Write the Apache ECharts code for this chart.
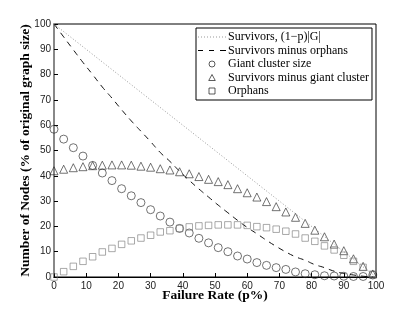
<!DOCTYPE html>
<html><head><meta charset="utf-8">
<script src="https://cdn.jsdelivr.net/npm/echarts@6/dist/echarts.min.js"></script>
<style>html,body{margin:0;padding:0;background:#fff}#c{width:415px;height:312px}</style>
</head><body><div id="c"></div>
<script>
var failureRate = [0,3,6,9,12,15,18,21,24,27,30,33,36,39,42,45,48,51,54,57,60,63,66,69,72,75,78,81,84,87,90,93,96,99];
var survivorsX = [0, 100];
var survivorsY = [100, 0];
var survivorsMinusOrphans = [100,94.9,89.8,84.8,80,75.1,70.7,66.1,61.7,57.6,53.5,49.2,45.7,41.8,38.2,34.8,31.6,28.4,25.4,22.4,19.6,17.1,14.5,12.1,9.9,8,6.6,4.9,3.7,2.3,1.4,0.8,0.3,0];
var giantCluster = [58.4,54.5,51.1,47.8,44.1,41.1,38.1,34.9,32.1,29.4,26.6,24.1,21.7,19.2,17.4,15.3,13.5,11.6,10.0,8.3,7.1,5.7,4.6,3.7,3.0,2.0,1.3,0.9,0.5,0.4,0.3,0.2,0.2,0.8];
var survivorsMinusGiant = [42.0,42.6,43.2,43.6,44.0,44.2,44.3,44.3,44.2,43.8,43.4,42.8,42.3,41.6,40.8,39.7,38.6,37.7,36.5,34.9,33.3,31.6,29.8,27.8,25.7,23.6,21.2,18.5,15.9,13.0,10.4,7.2,4.2,1.2];
var orphans = [0,2.1,4.2,6.2,8.0,9.9,11.3,12.9,14.3,15.4,16.5,17.8,18.3,19.2,19.8,20.2,20.4,20.6,20.6,20.6,20.4,19.9,19.5,18.9,18.1,17.0,15.4,14.1,12.3,10.7,8.6,6.2,3.8,1.1];
var seriesNames = ['Survivors, (1\u2212p)|G|','Survivors minus orphans','Giant cluster size','Survivors minus giant cluster','Orphans'];

function pairs(xs, ys){ return xs.map(function(x,i){ return [x, ys[i]]; }); }

var dottedIcon = 'path://M0,0h1v1h-1z M3,0h1v1h-1z M6,0h1v1h-1z M9,0h1v1h-1z M12,0h1v1h-1z M15,0h1v1h-1z M18,0h1v1h-1z M21,0h1v1h-1z M24,0h1v1h-1z M27,0h1v1h-1z';
var dashedIcon = 'path://M0,0h5v1h-5z M11,0h5v1h-5z M22,0h6v1h-6z';
var triIcon = 'path://M3,0L6,5.5L0,5.5Z';
var rectIcon = 'path://M0,0L5,0L5,5L0,5Z';

var chart = echarts.init(document.getElementById('c'), null, {renderer:'canvas'});
var serif = '"Liberation Serif", "DejaVu Serif", serif';
var sans = '"Liberation Sans", Arial, sans-serif';
var hollow = function(c){ return {color: 'rgba(0,0,0,0)', borderColor: c, borderWidth: 0.8}; };
chart.setOption({
  animation: false,
  backgroundColor: '#fff',
  grid: {left: 54, right: 39, top: 24, bottom: 35, show: true, borderColor: '#000', borderWidth: 1},
  legend: {
    orient: 'vertical', left: 196, top: 28,
    backgroundColor: '#fff', borderColor: '#000', borderWidth: 1,
    padding: [3, 3, 3, 2], itemGap: 1.5, itemWidth: 28, itemHeight: 6,
    textStyle: {fontFamily: serif, fontSize: 12, color: '#000', padding: [0,0,0,-3], lineHeight: 12},
    data: [
      {name: seriesNames[0], icon: dottedIcon, itemStyle: {color: '#999', borderWidth: 0}},
      {name: seriesNames[1], icon: dashedIcon, itemStyle: {color: '#000', borderWidth: 0}},
      {name: seriesNames[2], icon: 'circle', itemStyle: hollow('#000')},
      {name: seriesNames[3], icon: triIcon, itemStyle: hollow('#000')},
      {name: seriesNames[4], icon: rectIcon, itemStyle: hollow('#000')}
    ]
  },
  xAxis: {
    type: 'value', min: 0, max: 100, interval: 10,
    name: 'Failure Rate (p%)', nameLocation: 'middle', nameGap: 12, nameMoveOverlap: false,
    nameTextStyle: {fontFamily: serif, fontWeight: 'bold', fontSize: 13.5, color: '#000'},
    axisLine: {show: true, lineStyle: {color: '#000', width: 1}},
    axisTick: {show: true, inside: true, length: 4, lineStyle: {color: '#000'}},
    axisLabel: {fontFamily: sans, fontSize: 10, color: '#222', margin: 4},
    splitLine: {show: false}
  },
  yAxis: {
    type: 'value', min: 0, max: 100, interval: 10,
    name: 'Number of Nodes (% of original graph size)', nameLocation: 'middle', nameGap: 21, nameMoveOverlap: false,
    nameTextStyle: {fontFamily: serif, fontWeight: 'bold', fontSize: 13.5, color: '#000'},
    axisLine: {show: true, lineStyle: {color: '#888', width: 2}},
    axisTick: {show: true, inside: true, length: 4, lineStyle: {color: '#000'}},
    axisLabel: {fontFamily: sans, fontSize: 10, color: '#222', margin: 3},
    splitLine: {show: false}
  },
  series: [
    {name: seriesNames[0], type: 'line', data: pairs(survivorsX, survivorsY), symbol: 'none',
     lineStyle: {color: '#999', width: 1, type: [1, 2]}, itemStyle: {color: '#999'}},
    {name: seriesNames[1], type: 'line', data: pairs(failureRate, survivorsMinusOrphans), symbol: 'none', smooth: true,
     lineStyle: {color: '#111', width: 1, type: [6, 5]}, itemStyle: {color: '#000'}},
    {name: seriesNames[2], type: 'scatter', data: pairs(failureRate, giantCluster), symbol: 'circle', symbolSize: 8,
     itemStyle: hollow('#222')},
    {name: seriesNames[3], type: 'scatter', data: pairs(failureRate, survivorsMinusGiant), symbol: 'triangle', symbolSize: 8,
     itemStyle: hollow('#222')},
    {name: seriesNames[4], type: 'scatter', data: pairs(failureRate, orphans), symbol: 'rect', symbolSize: 6.5,
     itemStyle: hollow('#777')}
  ]
});
</script></body></html>
